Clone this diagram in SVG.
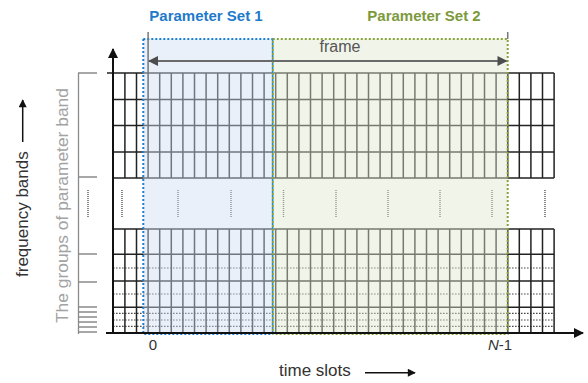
<svg xmlns="http://www.w3.org/2000/svg" width="588" height="383" viewBox="0 0 588 383">
  <style>
    .lbl { font-family: "Liberation Sans", Arial, sans-serif; }
    .grid { stroke: #222; stroke-width: 1.5; fill: none; }
    .sub { stroke: #4a4a4a; stroke-width: 1.2; stroke-dasharray: 1.6 1.4; fill: none; }
    .gapmark { stroke: #555; stroke-width: 1.4; stroke-dasharray: 1 1; fill: none; }
    .bracket { stroke: #8a8a8a; stroke-width: 1.3; fill: none; }
    .axis { stroke: #111; stroke-width: 2; fill: none; }
    .tick { stroke: #777; stroke-width: 1.5; fill: none; }
  </style>
  <defs>
    <marker id="headBlack" viewBox="0 0 10 10" refX="9" refY="5" markerWidth="16" markerHeight="10" markerUnits="userSpaceOnUse" orient="auto">
      <path d="M0 0L10 5L0 10z" fill="#111"/>
    </marker>
    <marker id="headGray" viewBox="0 0 10 10" refX="9" refY="5" markerWidth="15" markerHeight="10" markerUnits="userSpaceOnUse" orient="auto-start-reverse">
      <path d="M0 0L10 5L0 10z" fill="#4d4d4d"/>
    </marker>
    <marker id="headSmall" viewBox="0 0 10 10" refX="9" refY="5" markerWidth="13" markerHeight="8" markerUnits="userSpaceOnUse" orient="auto">
      <path d="M0 0L10 5L0 10z" fill="#111"/>
    </marker>
  </defs>

  <rect width="588" height="383" fill="#fff"/>

  <!-- time/frequency grid of slots and bands -->
  <g id="grid">
    <!-- band boundaries -->
    <path class="grid" d="M107 73H554.1M113 99.5H554.1M113 125.5H554.1M113 152H554.1M113 178H554.1M113 229H554.1M113 254.3H554.1M113 281H554.1M113 307.3H554.1"/>
    <!-- sub-band boundaries -->
    <path class="sub" d="M113 268H554M113 294H554M113 313.3H554M113 320H554M113 326.3H554"/>
    <!-- time slot boundaries -->
    <path class="grid" d="M124.9 73V178M136.5 73V178M148.1 73V178M159.7 73V178M171.3 73V178M182.9 73V178M194.5 73V178M206.1 73V178M217.7 73V178M229.3 73V178M240.9 73V178M252.5 73V178M264.1 73V178M275.7 73V178M287.3 73V178M298.9 73V178M310.5 73V178M322.1 73V178M333.7 73V178M345.3 73V178M356.9 73V178M368.5 73V178M380.1 73V178M391.7 73V178M403.3 73V178M414.9 73V178M426.5 73V178M438.1 73V178M449.7 73V178M461.3 73V178M472.9 73V178M484.5 73V178M496.1 73V178M507.7 73V178M519.3 73V178M530.9 73V178M542.5 73V178M554.1 73V178"/>
    <path class="grid" d="M124.9 229V333M136.5 229V333M148.1 229V333M159.7 229V333M171.3 229V333M182.9 229V333M194.5 229V333M206.1 229V333M217.7 229V333M229.3 229V333M240.9 229V333M252.5 229V333M264.1 229V333M275.7 229V333M287.3 229V333M298.9 229V333M310.5 229V333M322.1 229V333M333.7 229V333M345.3 229V333M356.9 229V333M368.5 229V333M380.1 229V333M391.7 229V333M403.3 229V333M414.9 229V333M426.5 229V333M438.1 229V333M449.7 229V333M461.3 229V333M472.9 229V333M484.5 229V333M496.1 229V333M507.7 229V333M519.3 229V333M530.9 229V333M542.5 229V333M554.1 229V333"/>
    <!-- elided bands -->
    <path class="gapmark" d="M122 190V217M178 190V217M231 190V217M283.5 190V217M336 190V217M388 190V217M440 190V217M492 190V217M545 190V217"/>
  </g>

  <!-- parameter set 1 -->
  <g id="param-set-1">
    <rect x="143.3" y="39" width="129.5" height="295" fill="rgb(206,222,244)" fill-opacity="0.45"/>
    <path d="M143.3 39H272.8M143.3 39V334H272.8M272.8 39V334" fill="none" stroke="#1f7fd4" stroke-width="2" stroke-dasharray="2 2"/>
    <text class="lbl" x="206" y="20.5" text-anchor="middle" font-size="15" font-weight="bold" fill="#1f7acb">Parameter Set 1</text>
  </g>

  <!-- parameter set 2 -->
  <g id="param-set-2">
    <rect x="272.8" y="39" width="234.9" height="295" fill="rgb(224,230,206)" fill-opacity="0.45"/>
    <path d="M272.8 39H507.7V334H272.8" fill="none" stroke="#86a43a" stroke-width="2" stroke-dasharray="2 2"/>
    <path d="M272.8 41V334" fill="none" stroke="#86a43a" stroke-width="2" stroke-dasharray="2 2"/>
    <text class="lbl" x="424" y="20.5" text-anchor="middle" font-size="15" font-weight="bold" fill="#7c9a3c">Parameter Set 2</text>
  </g>

  <!-- frame span -->
  <g id="frame">
    <path class="tick" d="M148.1 32V73M507.7 32V39"/>
    <text class="lbl" x="340" y="51.5" text-anchor="middle" font-size="16" fill="#555">frame</text>
  </g>

  <!-- band groups bracket -->
  <g id="band-groups">
    <path class="bracket" d="M78.5 73V334M78 73H97M78 177H97M78 254H97M78 282H97M78 307H97M78 312H97M78 317H97M78 322H97M78 327H97M78 332H97"/>
    <path class="gapmark" d="M88 190V217"/>
    <text class="lbl" transform="translate(68 323) rotate(-90)" font-size="17.4" fill="#a3a3a3">The groups of parameter band</text>
  </g>

  <!-- axis labels -->
  <g id="labels">
    <text class="lbl" x="153" y="350" text-anchor="middle" font-size="15" fill="#333">0</text>
    <text class="lbl" x="500" y="350" text-anchor="middle" font-size="15" fill="#333"><tspan font-style="italic">N</tspan>-1</text>
    <text class="lbl" x="279" y="376" font-size="17" fill="#333">time slots</text>
    <text class="lbl" transform="translate(28 277) rotate(-90)" font-size="17" fill="#333">frequency bands</text>
  </g>

  <!-- connectors -->
  <g id="connectors">
    <path class="axis" d="M113 334V49" marker-end="url(#headBlack)"/>
    <path class="axis" d="M106 333H583" marker-end="url(#headBlack)"/>
    <path d="M149 61H506.5" stroke="#6a6a6a" stroke-width="2" fill="none" marker-start="url(#headGray)" marker-end="url(#headGray)"/>
    <path d="M365 372.7H415" stroke="#111" stroke-width="1.5" fill="none" marker-end="url(#headSmall)"/>
    <path d="M22.7 142V100" stroke="#111" stroke-width="1.5" fill="none" marker-end="url(#headSmall)"/>
  </g>
</svg>
